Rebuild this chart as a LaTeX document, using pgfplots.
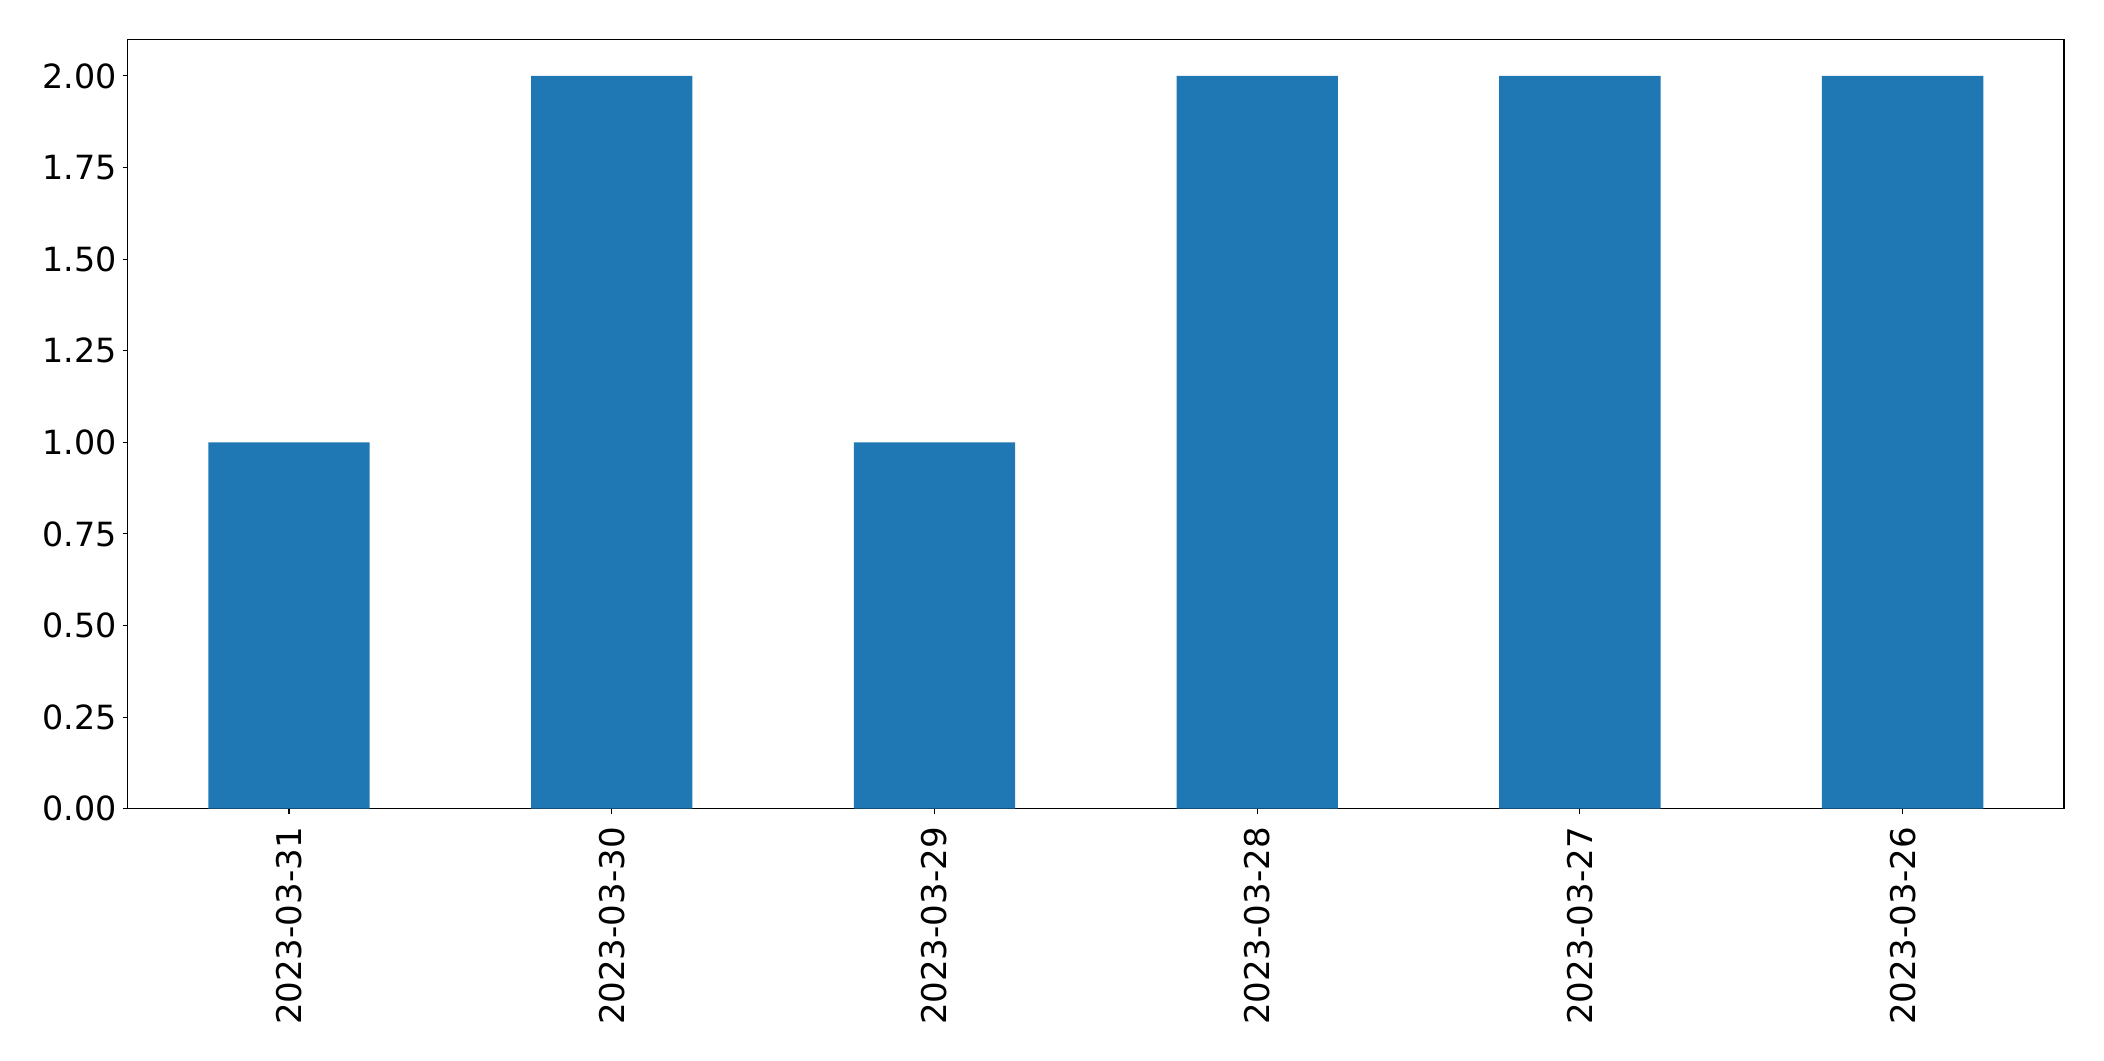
\documentclass[border=0pt]{standalone}
\usepackage{fontspec}
\setmainfont{DejaVu Sans}
\usepackage{pgfplots}
\pgfplotsset{compat=1.18}
\definecolor{mplblue}{HTML}{1F77B4}
\begin{document}
\begin{tikzpicture}
\begin{axis}[
  scale only axis,
  width=1394.3bp, height=554bp,
  xmin=-0.5, xmax=5.5, ymin=0, ymax=2.1,
  axis line style={line width=0.8bp, black},
  tick style={line width=0.8bp, black},
  tick align=outside,
  major tick length=3.6bp,
  xtick={0,1,2,3,4,5},
  xticklabels={2023-03-31,2023-03-30,2023-03-29,2023-03-28,2023-03-27,2023-03-26},
  ytick={0,0.25,0.5,0.75,1,1.25,1.5,1.75,2},
  xtick pos=bottom, ytick pos=left,
  /pgf/number format/assume math mode=true,
  yticklabel={\pgfmathprintnumber[fixed,fixed zerofill,precision=2]{\tick}},
  ticklabel style={inner sep=0pt},
  yticklabel style={font=\fontsize{24bp}{28bp}\selectfont, anchor=east, xshift=-4bp},
  xticklabel style={font=\fontsize{24.5bp}{28bp}\selectfont, rotate=90, anchor=east},
  xticklabel shift=9.5bp,
]
\addplot[ybar, bar width=0.5, bar shift=0pt, fill=mplblue, draw=none] coordinates {
  (0,1) (1,2) (2,1) (3,2) (4,2) (5,2)
};
\coordinate (sw) at (rel axis cs:0,0);
\coordinate (ne) at (rel axis cs:1,1);
\end{axis}
\path (sw) ++(-91.9bp,-181.4bp) coordinate (bbsw);
\path (ne) ++(28.8bp,28.3bp) coordinate (bbne);
\path (bbsw) rectangle (bbne);
\end{tikzpicture}
\end{document}
